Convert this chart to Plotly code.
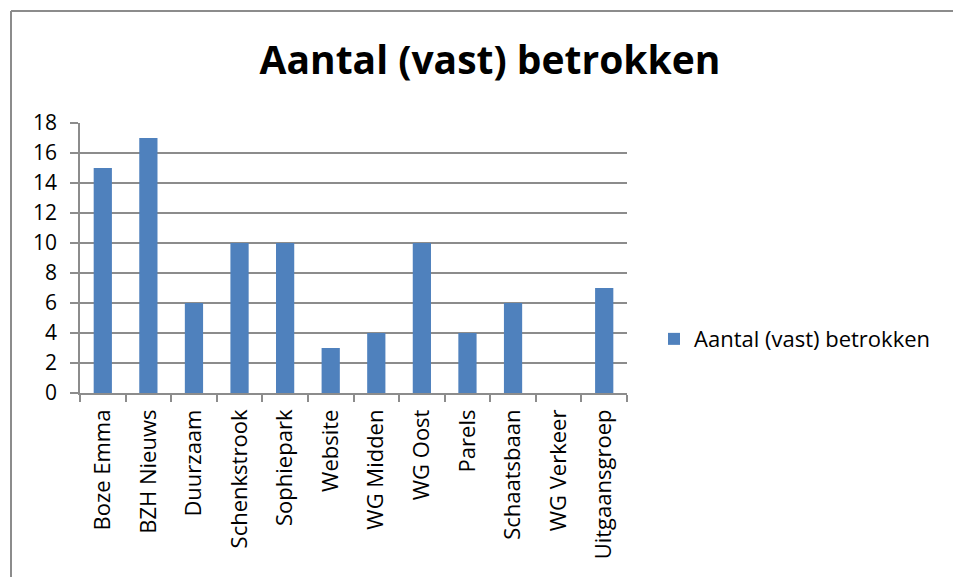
import plotly.graph_objects as go

categories = ["Boze Emma", "BZH Nieuws", "Duurzaam", "Schenkstrook", "Sophiepark",
              "Website", "WG Midden", "WG Oost", "Parels", "Schaatsbaan",
              "WG Verkeer", "Uitgaansgroep"]
values = [15, 17, 6, 10, 10, 3, 4, 10, 4, 6, 0, 7]
series_name = "Aantal (vast) betrokken"
y_ticks = list(range(0, 19, 2))

OFF = 8  # page body margin
W, H = 961 - OFF, 577 - OFF
L, R, T, B = 80 - OFF, 627 - OFF, 122.7 - OFF, 393 - OFF
pw, ph = R - L, B - T

def px(x):
    return (x - OFF - L) / pw

def py(y):
    return (B - (y - OFF)) / ph

FONT = "Open Sans"
bar_color = "#4F81BD"
grid_color = "#8C8C8C"

fig = go.Figure()
fig.add_trace(go.Bar(
    x=categories, y=values, name=series_name,
    marker=dict(color=bar_color, line=dict(width=0)),
    showlegend=True,
))

fig.update_layout(
    width=W, height=H,
    margin=dict(l=L, r=W - R, t=T, b=H - B, autoexpand=False),
    paper_bgcolor="white", plot_bgcolor="white",
    bargap=0.6,
    title=dict(text="<b>Aantal (vast) betrokken</b>", x=px(490), xref="paper",
               y=1 - (60 - OFF) / H, yref="container", xanchor="center", yanchor="middle",
               font=dict(family=FONT, size=39, color="black")),
    font=dict(family=FONT, size=21, color="black"),
    showlegend=True,
    legend=dict(x=px(654), y=py(339), xanchor="left", yanchor="middle",
                font=dict(family=FONT, size=22, color="black"),
                bgcolor="rgba(0,0,0,0)", itemwidth=30, tracegroupgap=0),
    xaxis=dict(
        type="category", tickangle=-90, showgrid=False,
        showline=True, linecolor=grid_color, linewidth=1.5,
        ticks="outside", tickson="boundaries", ticklen=7, tickcolor=grid_color, tickwidth=1.5,
        tickfont=dict(family=FONT, size=22, color="black"),
        ticklabelstandoff=6,
        range=[-0.5, len(categories) - 0.5],
    ),
    yaxis=dict(
        range=[0, 18], tickvals=y_ticks, showgrid=True, gridcolor=grid_color, gridwidth=1.5,
        showline=True, linecolor=grid_color, linewidth=1.5,
        ticks="outside", ticklen=8, tickcolor=grid_color, tickwidth=1.5,
        tickfont=dict(family=FONT, size=21, color="black"),
        ticklabelstandoff=9,
        zeroline=False,
    ),
    shapes=[
        dict(type="line", xref="paper", yref="paper", x0=px(11), x1=px(W + 20), y0=py(10.7), y1=py(10.7),
             line=dict(color="#8C8C8C", width=2)),
        dict(type="line", xref="paper", yref="paper", x0=px(11), x1=px(11), y0=py(10.7), y1=py(H + 20),
             line=dict(color="#8C8C8C", width=2)),
    ],
)

fig.write_html("out.html")
